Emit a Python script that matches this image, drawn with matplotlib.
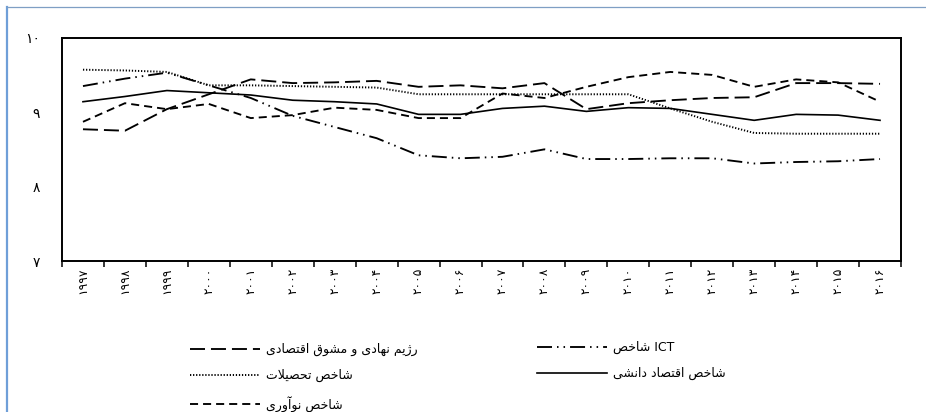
import matplotlib
matplotlib.use("Agg")
import matplotlib.pyplot as plt
from matplotlib.lines import Line2D

# values, 1997..2016
YEARS = list(range(1997, 2017))
INSTITUTIONAL = [8.77, 8.75, 9.04, 9.24, 9.44, 9.39, 9.40, 9.42, 9.34, 9.36,
                 9.32, 9.39, 9.04, 9.12, 9.16, 9.19, 9.20, 9.39, 9.39, 9.38]
EDUCATION = [9.57, 9.56, 9.54, 9.36, 9.36, 9.35, 9.34, 9.33, 9.24, 9.24,
             9.24, 9.24, 9.24, 9.24, 9.05, 8.87, 8.72, 8.71, 8.71, 8.71]
INNOVATION = [8.87, 9.12, 9.04, 9.11, 8.92, 8.96, 9.06, 9.03, 8.92, 8.92,
              9.25, 9.19, 9.34, 9.47, 9.54, 9.50, 9.34, 9.44, 9.40, 9.14]
ICT = [9.35, 9.45, 9.53, 9.36, 9.19, 8.95, 8.80, 8.65, 8.42, 8.38,
       8.40, 8.50, 8.37, 8.37, 8.38, 8.38, 8.31, 8.33, 8.34, 8.37]
KNOWLEDGE = [9.14, 9.21, 9.29, 9.26, 9.23, 9.16, 9.14, 9.11, 8.97, 8.97,
             9.05, 9.08, 9.01, 9.06, 9.05, 8.97, 8.89, 8.97, 8.96, 8.89]
Y_TICKS = [7, 8, 9, 10]

LBL_INST = "رژیم نهادی و مشوق اقتصادی"
LBL_EDU = "شاخص تحصیلات"
LBL_INNO = "شاخص نوآوری"
LBL_ICT = "شاخص ICT"
LBL_KE = "شاخص اقتصاد دانشی"

W, H = 926, 412

# --- tiny arabic shaper (matplotlib has no complex text layout) ---
# isolated, final[, initial, medial]
FORMS = {
    "\u0627": "\ufe8d\ufe8e", "\u0622": "\ufe81\ufe82",
    "\u062f": "\ufea9\ufeaa", "\u0631": "\ufead\ufeae",
    "\u0698": "\ufb8a\ufb8b", "\u0648": "\ufeed\ufeee",
    "\u062a": "\ufe95\ufe96\ufe97\ufe98", "\u062d": "\ufea1\ufea2\ufea3\ufea4",
    "\u062e": "\ufea5\ufea6\ufea7\ufea8", "\u0634": "\ufeb5\ufeb6\ufeb7\ufeb8",
    "\u0635": "\ufeb9\ufeba\ufebb\ufebc", "\u0642": "\ufed5\ufed6\ufed7\ufed8",
    "\u0644": "\ufedd\ufede\ufedf\ufee0", "\u0645": "\ufee1\ufee2\ufee3\ufee4",
    "\u0646": "\ufee5\ufee6\ufee7\ufee8", "\u0647": "\ufee9\ufeea\ufeeb\ufeec",
    "\u06cc": "\ufbfc\ufbfd\ufbfe\ufbff",
}


def dual(c):
    return c in FORMS and len(FORMS[c]) == 4


def shape(word):
    out, i, n = [], 0, len(word)
    while i < n:
        c = word[i]
        jp = i > 0 and dual(word[i - 1])
        if c == "\u0644" and i + 1 < n and word[i + 1] == "\u0627":
            out.append("\ufefc" if jp else "\ufefb")
            i += 2
            continue
        if c not in FORMS:
            out.append(c); i += 1; continue
        jn = dual(c) and i + 1 < n and word[i + 1] in FORMS
        f = FORMS[c]
        if jp and jn:
            out.append(f[3])
        elif jp:
            out.append(f[1])
        elif jn:
            out.append(f[2])
        else:
            out.append(f[0])
        i += 1
    return "".join(out)


def rtl(text):
    # the source keeps latin words where they were typed (LTR paragraph run)
    words = text.split(" ")
    if any(w.isascii() for w in words):
        return " ".join(w if w.isascii() else shape(w)[::-1] for w in words)
    return " ".join(reversed([shape(w)[::-1] for w in words]))


FA = str.maketrans("0123456789", "۰۱۲۳۴۵۶۷۸۹")


def fa(v):
    return str(v).translate(FA)


def main():
    plt.rcParams["font.family"] = ["DejaVu Sans"]
    plt.rcParams["lines.scale_dashes"] = False

    fig = plt.figure(figsize=(W / 100, H / 100), dpi=100)
    ax = fig.add_axes([62 / W, 1 - 261 / H, (901 - 62) / W, (261 - 37.7) / H])

    x = list(range(len(YEARS)))
    kw = dict(color="black", lw=1.35)
    l_inst, = ax.plot(x, INSTITUTIONAL, dashes=(10.8, 4.3), label=rtl(LBL_INST), **kw)
    l_edu, = ax.plot(x, EDUCATION, color="black", lw=1.4, dashes=(0.9, 1.3), label=rtl(LBL_EDU))
    l_inno, = ax.plot(x, INNOVATION, dashes=(5.8, 3.6), label=rtl(LBL_INNO), **kw)
    l_ict, = ax.plot(x, ICT, dashes=(10.8, 3.6, 1.1, 3.6, 1.1, 3.6), label=rtl(LBL_ICT), **kw)
    l_ke, = ax.plot(x, KNOWLEDGE, color="black", lw=1.2, label=rtl(LBL_KE))

    ax.set_xlim(-0.5, len(YEARS) - 0.5)
    ax.set_ylim(7, 10)
    ax.set_yticks(Y_TICKS, [fa(v) for v in Y_TICKS], fontsize=10)
    ax.tick_params(axis="y", length=0, pad=16)
    for t in ax.get_yticklabels():
        t.set_y(t.get_position()[1])
        t.set_verticalalignment("center_baseline")
    ax.set_xticks([i - 0.5 for i in range(len(YEARS) + 1)], [])
    ax.set_xticks(x, [fa(y) for y in YEARS], minor=True, rotation=90, fontsize=8.8)
    ax.tick_params(axis="x", which="major", length=4.5, width=1.1, direction="out")
    ax.tick_params(axis="x", which="minor", length=0, pad=5)
    for s in ax.spines.values():
        s.set_linewidth(1.4)

    lg_kw = dict(frameon=False, fontsize=9, handlelength=5.6, handletextpad=0.5,
                 labelspacing=1.05, borderpad=0, borderaxespad=0, loc="upper left")
    lg1 = ax.legend(handles=[l_inst, l_edu, l_inno],
                    bbox_to_anchor=(190 / W, 1 - 343 / H), bbox_transform=fig.transFigure, **lg_kw)
    ax.add_artist(lg1)
    ax.legend(handles=[l_ict, l_ke],
              bbox_to_anchor=(537 / W, 1 - 341 / H), bbox_transform=fig.transFigure, **lg_kw)

    # page frame (left + top) like the source document
    fig.add_artist(Line2D([7 / W, 7 / W], [0, 1 - 7 / H], transform=fig.transFigure,
                          color="#6f9fd8", lw=1.6))
    fig.add_artist(Line2D([7 / W, 1], [1 - 7 / H, 1 - 7 / H], transform=fig.transFigure,
                          color="#7f9fc4", lw=0.9))

    fig.savefig("out.png", dpi=100)
    plt.close(fig)


if __name__ == "__main__":
    main()
